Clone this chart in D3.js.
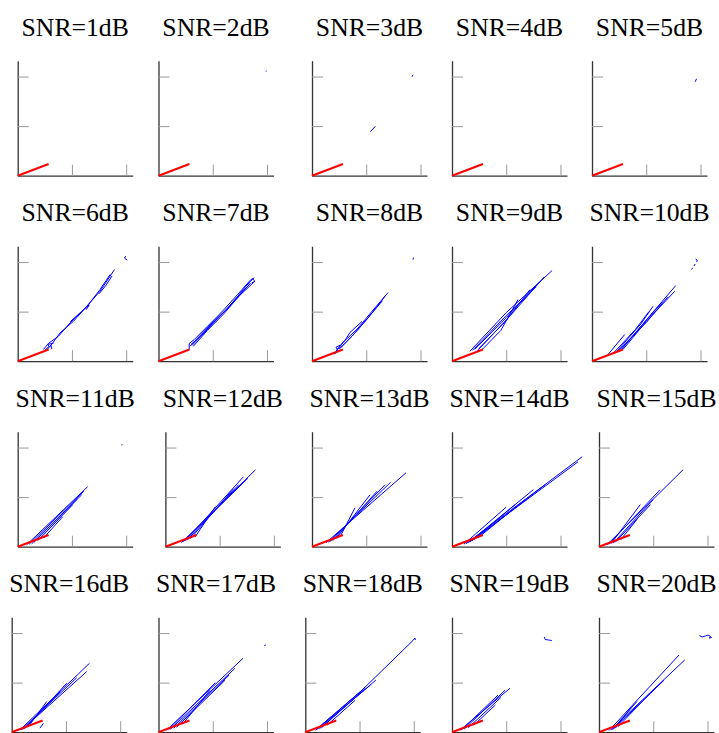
<!DOCTYPE html>
<html><head><meta charset="utf-8">
<script src="https://cdn.jsdelivr.net/npm/d3@7"></script>
<style>html,body{margin:0;padding:0;background:#fff;}
.ttl{font-family:"Liberation Serif","Tinos","Times New Roman",Times,"DejaVu Serif",serif;font-size:25.7px;}</style>
</head><body>
<svg id="chart" width="719" height="733"></svg>
<script>
// ---- data ----
const snrValues = [1,2,3,4,5,6,7,8,9,10,11,12,13,14,15,16,17,18,19,20];
const xTicks = [1, 2];
const yTicks = [1, 2];
const xDomain = [0, 2.12];
const yDomain = [0, 2.32];
const redLine = [[0,0],[0.57,0.235]];
const blueTracks = [
  [],
  [[[1.98,2.10],[1.99,2.12]]],
  [[[1.076,0.887],[1.168,0.996]], [[1.845,1.996],[1.863,2.036]]],
  [],
  [[[1.90,1.895],[1.928,1.956]]],
  [ // 6
    [[0.474,0.236],[0.566,0.357],[0.751,0.504],[0.965,0.772],[1.057,0.873],[1.273,1.109],[1.518,1.411],[1.784,1.849]],
    [[0.517,0.20],[0.61,0.32],[0.63,0.24]],
    [[0.50,0.22],[0.58,0.30],[0.55,0.34],[0.66,0.36]],
    [[0.60,0.30],[0.78,0.571],[1.028,0.806],[1.304,1.143],[1.518,1.446],[1.703,1.748]],
    [[0.97,0.80],[1.32,1.14]], [[1.26,1.04],[1.32,1.13]],
    [[1.50,1.36],[1.62,1.52],[1.74,1.72]],
    [[1.99,2.12],[1.97,2.08],[2.02,2.04]]
  ],
  [ // 7
    [[0.566,0.236],[0.566,0.357],[0.659,0.437],[0.904,0.706],[1.15,0.974],[1.458,1.345],[1.703,1.647],[1.766,1.68]],
    [[0.58,0.30],[0.70,0.44],[0.95,0.73],[1.20,0.99],[1.50,1.33],[1.777,1.613],[1.72,1.58]],
    [[0.60,0.34],[0.75,0.48],[1.00,0.77],[1.25,1.04],[1.50,1.36],[1.674,1.546]],
    [[0.62,0.32],[0.85,0.58],[1.10,0.87],[1.35,1.15],[1.60,1.50],[1.74,1.66],[1.77,1.62]],
    [[0.64,0.30],[0.90,0.62],[1.20,0.95],[1.45,1.27],[1.70,1.58]]
  ],
  [ // 8
    [[0.443,0.202],[0.554,0.363],[0.83,0.645],[1.107,1.008],[1.402,1.385]],
    [[0.498,0.242],[0.738,0.504],[1.015,0.847],[1.347,1.31]],
    [[0.406,0.141],[0.48,0.202],[0.443,0.282],[0.517,0.323]],
    [[0.52,0.26],[0.80,0.58],[1.05,0.90],[1.30,1.22]],
    [[0.46,0.22],[0.62,0.44],[0.70,0.58],[0.92,0.80]],
    [[1.863,2.05],[1.87,2.09]]
  ],
  [ // 9
    [[0.33,0.20],[1.0,0.98],[1.845,1.829]],
    [[0.42,0.24],[1.0,0.88],[1.624,1.607]],
    [[0.50,0.26],[1.0,0.82],[1.439,1.446]],
    [[0.56,0.24],[0.9,0.62],[1.218,1.244]],
    [[0.38,0.22],[1.0,0.92],[1.55,1.50]],
    [[0.46,0.20],[1.1,0.95],[1.70,1.70]]
  ],
  [ // 10
    [[0.295,0.135],[0.603,0.538]],
    [[0.51,0.20],[1.0,0.83],[1.544,1.526]],
    [[0.57,0.236],[1.0,0.80],[1.526,1.411]],
    [[0.45,0.19],[0.9,0.75],[1.125,1.109]],
    [[0.40,0.17],[0.8,0.64],[1.05,1.0]],
    [[0.53,0.22],[0.95,0.76],[1.30,1.20]],
    [[0.48,0.21],[1.0,0.78],[1.40,1.30]],
    [[1.83,1.85],[1.86,1.88]], [[1.88,1.92],[1.90,1.96]], [[1.91,2.06],[1.94,2.04],[1.93,2.00]]
  ],
  [ // 11
    [[0.166,0.04],[1.29,1.21]],
    [[0.258,0.06],[1.18,1.048]],
    [[0.369,0.121],[1.015,0.847]],
    [[0.48,0.18],[0.83,0.605]],
    [[0.30,0.09],[1.10,0.96]],
    [[0.21,0.05],[1.22,1.12]],
    [[1.91,2.05],[1.93,2.06]]
  ],
  [ // 12
    [[0.295,0.08],[1.66,1.55]],
    [[0.369,0.121],[1.439,1.411]],
    [[0.461,0.161],[1.255,1.169]],
    [[0.55,0.20],[0.92,0.806]],
    [[0.40,0.13],[1.35,1.25]],
    [[0.33,0.10],[1.52,1.38]]
  ],
  [ // 13
    [[0.258,0.08],[1.734,1.492]],
    [[0.332,0.10],[1.347,1.25]],
    [[0.443,0.161],[1.07,1.048]],
    [[0.517,0.20],[0.793,0.786]],
    [[0.38,0.12],[1.20,1.12]],
    [[0.30,0.09],[1.45,1.30]]
  ],
  [ // 14
    [[0.258,0.06],[2.40,1.815]],
    [[0.332,0.10],[2.325,1.714]],
    [[0.406,0.141],[1.716,1.25]],
    [[0.48,0.18],[1.347,0.948]],
    [[0.369,0.121],[1.162,0.847]],
    [[0.30,0.08],[1.50,1.15]],
    [[0.22,0.05],[1.0,0.80]]
  ],
  [ // 15
    [[0.148,0.04],[1.55,1.552]],
    [[0.18,0.05],[1.125,1.149]],
    [[0.22,0.06],[0.76,0.847]],
    [[0.30,0.09],[0.95,0.85]],
    [[0.26,0.07],[1.0,0.95]],
    [[0.40,0.14],[0.70,0.55]]
  ],
  [ // 16
    [[0.153,0.046],[1.434,1.391]],
    [[0.20,0.06],[1.384,1.224]],
    [[0.25,0.08],[1.015,0.988]],
    [[0.30,0.10],[0.646,0.619]],
    [[0.18,0.05],[1.20,1.10]],
    [[0.22,0.06],[0.90,0.82]],
    [[0.52,0.08],[0.585,0.18]]
  ],
  [ // 17
    [[0.148,0.04],[1.559,1.492]],
    [[0.221,0.06],[1.411,1.29]],
    [[0.332,0.10],[1.227,1.048]],
    [[0.443,0.161],[0.95,0.847]],
    [[0.28,0.08],[1.30,1.15]],
    [[0.19,0.05],[1.05,1.00]],
    [[1.95,1.75],[1.98,1.76]]
  ],
  [ // 18
    [[0.185,0.04],[1.0,0.80],[1.99,1.855],[2.02,1.90],[2.03,1.86]],
    [[0.22,0.06],[1.2,0.95]],
    [[0.30,0.09],[1.07,0.85]],
    [[0.40,0.14],[0.92,0.645]],
    [[0.26,0.07],[1.3,1.05]],
    [[0.20,0.05],[1.10,0.90]]
  ],
  [ // 19
    [[0.148,0.04],[1.07,0.887]],
    [[0.221,0.06],[0.978,0.847]],
    [[0.30,0.09],[0.90,0.70]],
    [[0.40,0.14],[0.80,0.55]],
    [[0.18,0.05],[0.85,0.75]],
    [[1.70,1.92],[1.72,1.87],[1.78,1.86],[1.84,1.85]]
  ],
  [ // 20
    [[0.185,0.034],[1.476,1.558]],
    [[0.22,0.05],[1.581,1.458]],
    [[0.30,0.08],[0.585,0.484]],
    [[0.26,0.06],[1.20,1.05]],
    [[0.35,0.11],[1.0,0.85]],
    [[0.24,0.05],[0.70,0.62]],
    [[1.85,1.95],[1.90,1.92],[1.96,1.94],[2.01,1.96],[2.06,1.93],[2.03,1.90],[2.08,1.91]]
  ]
];

// ---- layout ----
const panelW = 115, panelH = 115;
const rowLefts = [
  [17.7,158.5,312,452,592],
  [17.7,158.5,312,452,592],
  [17.7,165.4,312,452,599],
  [11.7,158.5,305.3,452,599]
];
const firstBottom = 175.7, rowStep = 185.5, titleGap = 140;

const svg = d3.select("#chart");
const x = d3.scaleLinear().domain(xDomain).range([0, panelW]);
const y = d3.scaleLinear().domain(yDomain).range([panelH, 0]);
const line = d3.line().x(d => x(d[0])).y(d => y(d[1]));

snrValues.forEach((snr, i) => {
  const r = Math.floor(i / 5), c = i % 5;
  const left = rowLefts[r][c];
  const bottom = firstBottom + r * rowStep;
  const g = svg.append("g").attr("transform", `translate(${left},${bottom - panelH})`);

  svg.append("text")
    .attr("class", "ttl")
    .attr("x", left + panelW / 2)
    .attr("y", bottom - titleGap)
    .attr("text-anchor", "middle")
    .attr("font-family", "Liberation Serif")
    .text(`SNR=${snr}dB`);

  const xa = g.append("g").attr("transform", `translate(0,${panelH})`)
    .call(d3.axisBottom(x).tickValues(xTicks).tickSize(-11).tickSizeOuter(0).tickFormat(""));
  const ya = g.append("g")
    .call(d3.axisLeft(y).tickValues(yTicks).tickSize(-11).tickSizeOuter(0).tickFormat(""));
  [xa, ya].forEach(a => {
    a.attr("font-family", null);
    a.select(".domain").attr("stroke", "#333").attr("stroke-width", 1.3);
    a.selectAll(".tick line").attr("stroke", "#999").attr("stroke-width", 1);
  });

  g.selectAll("path.blue").data(blueTracks[i]).enter().append("path")
    .attr("class", "blue")
    .attr("d", line)
    .attr("fill", "none").attr("stroke", "#0000ff").attr("stroke-width", 1)
    .attr("stroke-linejoin", "round");

  g.append("path").datum(redLine)
    .attr("d", line)
    .attr("fill", "none").attr("stroke", "#ff0000").attr("stroke-width", 2);
});
</script>
</body></html>
